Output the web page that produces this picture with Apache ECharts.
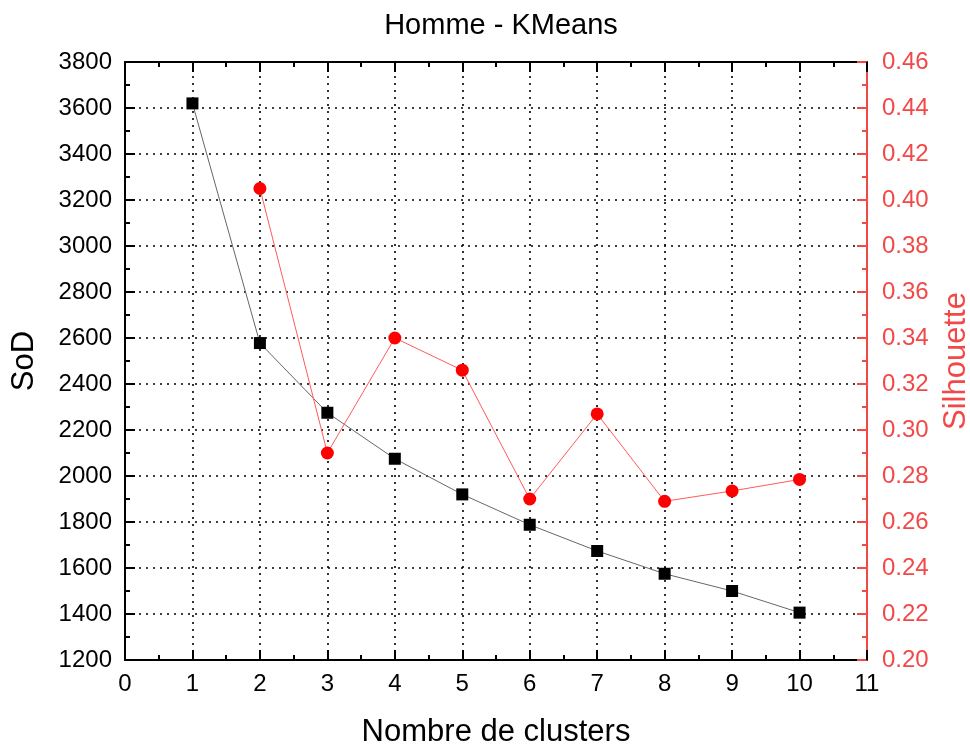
<!DOCTYPE html>
<html><head><meta charset="utf-8">
<script src="https://cdn.jsdelivr.net/npm/echarts@6/dist/echarts.min.js"></script>
<style>html,body{margin:0;padding:0;background:#fff;overflow:hidden}#c{width:970px;height:749px}</style>
</head><body><div id="c"></div>
<script>
const clusters = [1,2,3,4,5,6,7,8,9,10];
const sod = [3620,2578,2275,2075,1920,1788,1674,1575,1500,1406];
const silhouette = [null,0.405,0.290,0.340,0.326,0.270,0.307,0.269,0.2735,0.2785];
const xTicks = {min:0,max:11,interval:1};
const sodTicks = {min:1200,max:3800,interval:200};
const silTicks = {min:0.20,max:0.46,interval:0.02};

const FONT = '"Liberation Sans", Arial, sans-serif';
const RED = '#f24848';
const chart = echarts.init(document.getElementById('c'), null, {renderer:'canvas', width:970, height:749});
const gridDot = {show:true, lineStyle:{color:'#000', type:[2,5], width:1.6}};
chart.setOption({
  animation:false,
  title:{text:'Homme - KMeans', left:496, top:6, textAlign:'center',
    textStyle:{fontFamily:FONT, fontSize:29, fontWeight:'normal', color:'#000'}},
  grid:{left:125, right:103, top:62, bottom:89, containLabel:false, outerBoundsMode:'none'},
  xAxis:[{
    type:'value', position:'bottom', min:xTicks.min, max:xTicks.max, interval:xTicks.interval,
    name:'Nombre de clusters', nameLocation:'middle', nameGap:57,
    nameTextStyle:{fontFamily:FONT, fontSize:31, color:'#000'},
    axisLine:{show:true, onZero:false, lineStyle:{color:'#000', width:2}},
    axisTick:{show:true, inside:true, length:10, lineStyle:{width:2, color:'#000'}},
    minorTick:{show:true, splitNumber:2, length:5, lineStyle:{width:2, color:'#000'}},
    axisLabel:{fontFamily:FONT, fontSize:24, color:'#000', margin:12},
    splitLine:gridDot
  },{
    type:'value', position:'top', min:xTicks.min, max:xTicks.max, interval:xTicks.interval,
    axisLine:{show:true, onZero:false, lineStyle:{color:'#000', width:2}},
    axisTick:{show:true, inside:true, length:10, lineStyle:{width:2, color:'#000'}},
    minorTick:{show:true, splitNumber:2, length:5, lineStyle:{width:2, color:'#000'}},
    axisLabel:{show:false}, splitLine:{show:false}
  }],
  yAxis:[{
    type:'value', position:'left', min:sodTicks.min, max:sodTicks.max, interval:sodTicks.interval,
    name:'SoD', nameLocation:'middle', nameGap:85, nameRotate:90,
    nameTextStyle:{fontFamily:FONT, fontSize:31, color:'#000'},
    axisLine:{show:true, onZero:false, lineStyle:{color:'#000', width:2}},
    axisTick:{show:true, inside:true, length:10, lineStyle:{width:2, color:'#000'}},
    minorTick:{show:true, splitNumber:2, length:5, lineStyle:{width:2, color:'#000'}},
    axisLabel:{fontFamily:FONT, fontSize:24, color:'#000', margin:13, formatter:v=>String(v)},
    splitLine:gridDot
  },{
    type:'value', position:'right', min:silTicks.min, max:silTicks.max, interval:silTicks.interval,
    name:'Silhouette', nameLocation:'middle', nameGap:74, nameRotate:90,
    nameTextStyle:{fontFamily:FONT, fontSize:31, color:RED},
    axisLine:{show:true, onZero:false, lineStyle:{color:RED, width:2}},
    axisTick:{show:true, inside:true, length:10, lineStyle:{width:2, color:RED}},
    minorTick:{show:true, splitNumber:2, length:5, lineStyle:{width:2, color:RED}},
    axisLabel:{fontFamily:FONT, fontSize:24, color:RED, margin:15, formatter:v=>v.toFixed(2)},
    splitLine:{show:false}
  }],
  series:[{
    type:'line', xAxisIndex:0, yAxisIndex:0,
    data:clusters.map((c,i)=>[c,sod[i]]),
    symbol:'rect', symbolSize:12,
    itemStyle:{color:'#000'}, lineStyle:{color:'#666', width:1}
  },{
    type:'line', xAxisIndex:0, yAxisIndex:1,
    data:clusters.map((c,i)=>[c,silhouette[i]]).filter(d=>d[1]!==null),
    symbol:'circle', symbolSize:13,
    itemStyle:{color:'#ff0000'}, lineStyle:{color:'#ff5a5a', width:1}
  }]
});
</script></body></html>
